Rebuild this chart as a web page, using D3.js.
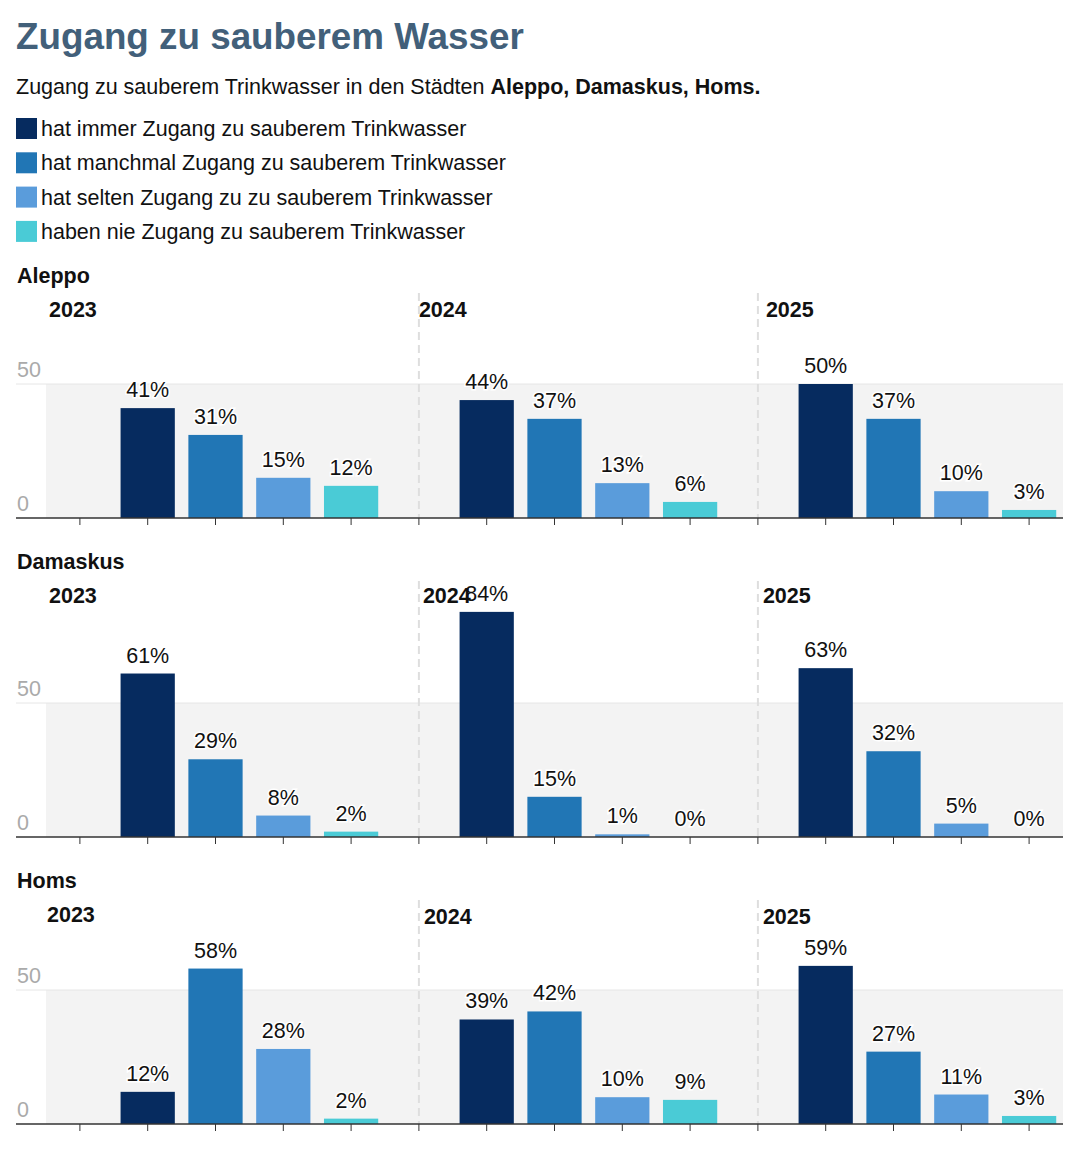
<!DOCTYPE html>
<html>
<head>
  <meta charset="utf-8">
  <script src="https://cdn.jsdelivr.net/npm/d3@7"></script>
  <style>
    body { margin: 0; background: #fff; }
    svg { font-family: "Liberation Sans", Arial, sans-serif; }
  </style>
</head>
<body>
<script>
// chart values
var categories = [
  "hat immer Zugang zu sauberem Trinkwasser",
  "hat manchmal Zugang zu sauberem Trinkwasser",
  "hat selten Zugang zu zu sauberem Trinkwasser",
  "haben nie Zugang zu sauberem Trinkwasser"
];
var years = ["2023", "2024", "2025"];
var cities = ["Aleppo", "Damaskus", "Homs"];
var aleppoValues   = [[41, 31, 15, 12], [44, 37, 13, 6], [50, 37, 10, 3]];
var damaskusValues = [[61, 29, 8, 2],   [84, 15, 1, 0],  [63, 32, 5, 0]];
var homsValues     = [[12, 58, 28, 2],  [39, 42, 10, 9], [59, 27, 11, 3]];
var yTicks = [0, 50];

var palette = ["#062b5f", "#2176b5", "#5a9cdb", "#4acbd6"];
var fs = "21.5px";

var width = 1080, height = 1149;
var svg = d3.select("body").append("svg")
    .attr("width", width)
    .attr("height", height);

// title + subtitle
svg.append("text")
    .attr("x", 16).attr("y", 49)
    .style("font-size", "36.8px")
    .style("font-weight", "bold")
    .style("fill", "#42607a")
    .text("Zugang zu sauberem Wasser");

var sub = svg.append("text")
    .attr("x", 16).attr("y", 94)
    .style("font-size", fs)
    .style("fill", "#111");
sub.append("tspan").text("Zugang zu sauberem Trinkwasser in den Städten ");
sub.append("tspan").style("font-weight", "bold").text(cities.join(", ") + ".");

// legend
var legend = svg.append("g").selectAll("g")
    .data(categories)
    .join("g")
    .attr("transform", function (d, i) { return "translate(16," + (118 + i * 34.3) + ")"; });
legend.append("rect")
    .attr("width", 21).attr("height", 21)
    .style("fill", function (d, i) { return palette[i]; });
legend.append("text")
    .attr("x", 25).attr("y", 18)
    .style("font-size", fs)
    .style("fill", "#111")
    .text(function (d) { return d; });

// x scale: five slots per year, the first one left empty
var slots = [];
years.forEach(function (y) {
  slots.push(y + "|gap");
  categories.forEach(function (c, i) { slots.push(y + "|" + i); });
});
var x = d3.scaleBand().domain(slots).range([46, 1063]).paddingInner(0.2).paddingOuter(0.1);

var panels = [
  { city: "Aleppo",   values: aleppoValues,   top: 283, zero: 518, yearOffsets: [49, 0, 8] },
  { city: "Damaskus", values: damaskusValues, top: 569, zero: 837, yearOffsets: [49, 4, 5] },
  { city: "Homs",     values: homsValues,     top: 888, zero: 1124, yearOffsets: [47, 5, 5] }
];

panels.forEach(function (p) {
  var g = svg.append("g");
  var y = d3.scaleLinear().domain([0, 50]).range([p.zero, p.zero - 134]);
  var chartTop = p.top + 10 + (p.city === "Aleppo" ? 0 : 2);

  // grey band 0..50
  g.append("rect")
      .attr("x", 46).attr("width", 1063 - 46)
      .attr("y", y(50)).attr("height", y(0) - y(50))
      .style("fill", "#f3f3f3");
  g.append("line")
      .attr("x1", 16).attr("x2", 1063)
      .attr("y1", y(50)).attr("y2", y(50))
      .style("stroke", "#e6e6e6");

  // y tick labels
  g.selectAll(".ytick")
      .data(yTicks)
      .join("text")
      .attr("x", 17).attr("y", function (d) { return y(d) - 7; })
      .style("font-size", fs)
      .style("fill", "#aaa")
      .text(function (d) { return d; });

  // year separators
  g.selectAll(".sep")
      .data(years.slice(1))
      .join("line")
      .attr("x1", function (d) { return x(d + "|gap") + x.bandwidth() / 2; })
      .attr("x2", function (d) { return x(d + "|gap") + x.bandwidth() / 2; })
      .attr("y1", chartTop).attr("y2", p.zero)
      .style("stroke", "#dedede")
      .style("stroke-width", 2)
      .style("stroke-dasharray", "8,5");

  // city title
  g.append("text")
      .attr("x", 17).attr("y", p.top)
      .style("font-size", fs)
      .style("font-weight", "bold")
      .style("fill", "#111")
      .text(p.city);

  // bars
  var rows = [];
  years.forEach(function (yr, yi) {
    p.values[yi].forEach(function (v, ci) { rows.push({ key: yr + "|" + ci, value: v, cat: ci }); });
  });

  g.selectAll(".bar")
      .data(rows)
      .join("rect")
      .attr("x", function (d) { return x(d.key); })
      .attr("width", x.bandwidth())
      .attr("y", function (d) { return y(d.value); })
      .attr("height", function (d) { return y(0) - y(d.value); })
      .style("fill", function (d) { return palette[d.cat]; });

  // axis
  var axis = g.append("g")
      .attr("transform", "translate(0," + p.zero + ")");
  axis.append("line")
      .attr("x1", 16).attr("x2", 1063)
      .style("stroke", "#333").style("stroke-width", 1.5);
  axis.selectAll(".tick")
      .data(slots)
      .join("line")
      .attr("x1", function (d) { return x(d) + x.bandwidth() / 2; })
      .attr("x2", function (d) { return x(d) + x.bandwidth() / 2; })
      .attr("y1", 0).attr("y2", 7)
      .style("stroke", "#333");

  // value labels
  g.selectAll(".val")
      .data(rows)
      .join("text")
      .attr("x", function (d) { return x(d.key) + x.bandwidth() / 2; })
      .attr("y", function (d) { return y(d.value) - 11; })
      .attr("text-anchor", "middle")
      .style("font-size", fs)
      .style("fill", "#111")
      .style("stroke", "#fff")
      .style("stroke-width", 3)
      .style("paint-order", "stroke")
      .text(function (d) { return d.value + "%"; });

  // year labels (drawn last, on top of value labels as in the original)
  g.selectAll(".year")
      .data(years)
      .join("text")
      .attr("x", function (d, i) {
        return i === 0 ? p.yearOffsets[0] : x(d + "|gap") + x.bandwidth() / 2 + p.yearOffsets[i];
      })
      .attr("y", function (d, i) { return p.top + 34 + (p.city === "Homs" && i > 0 ? 2 : 0); })
      .style("font-size", fs)
      .style("font-weight", "bold")
      .style("fill", "#111")
      .text(function (d) { return d; });
});
</script>
</body>
</html>
